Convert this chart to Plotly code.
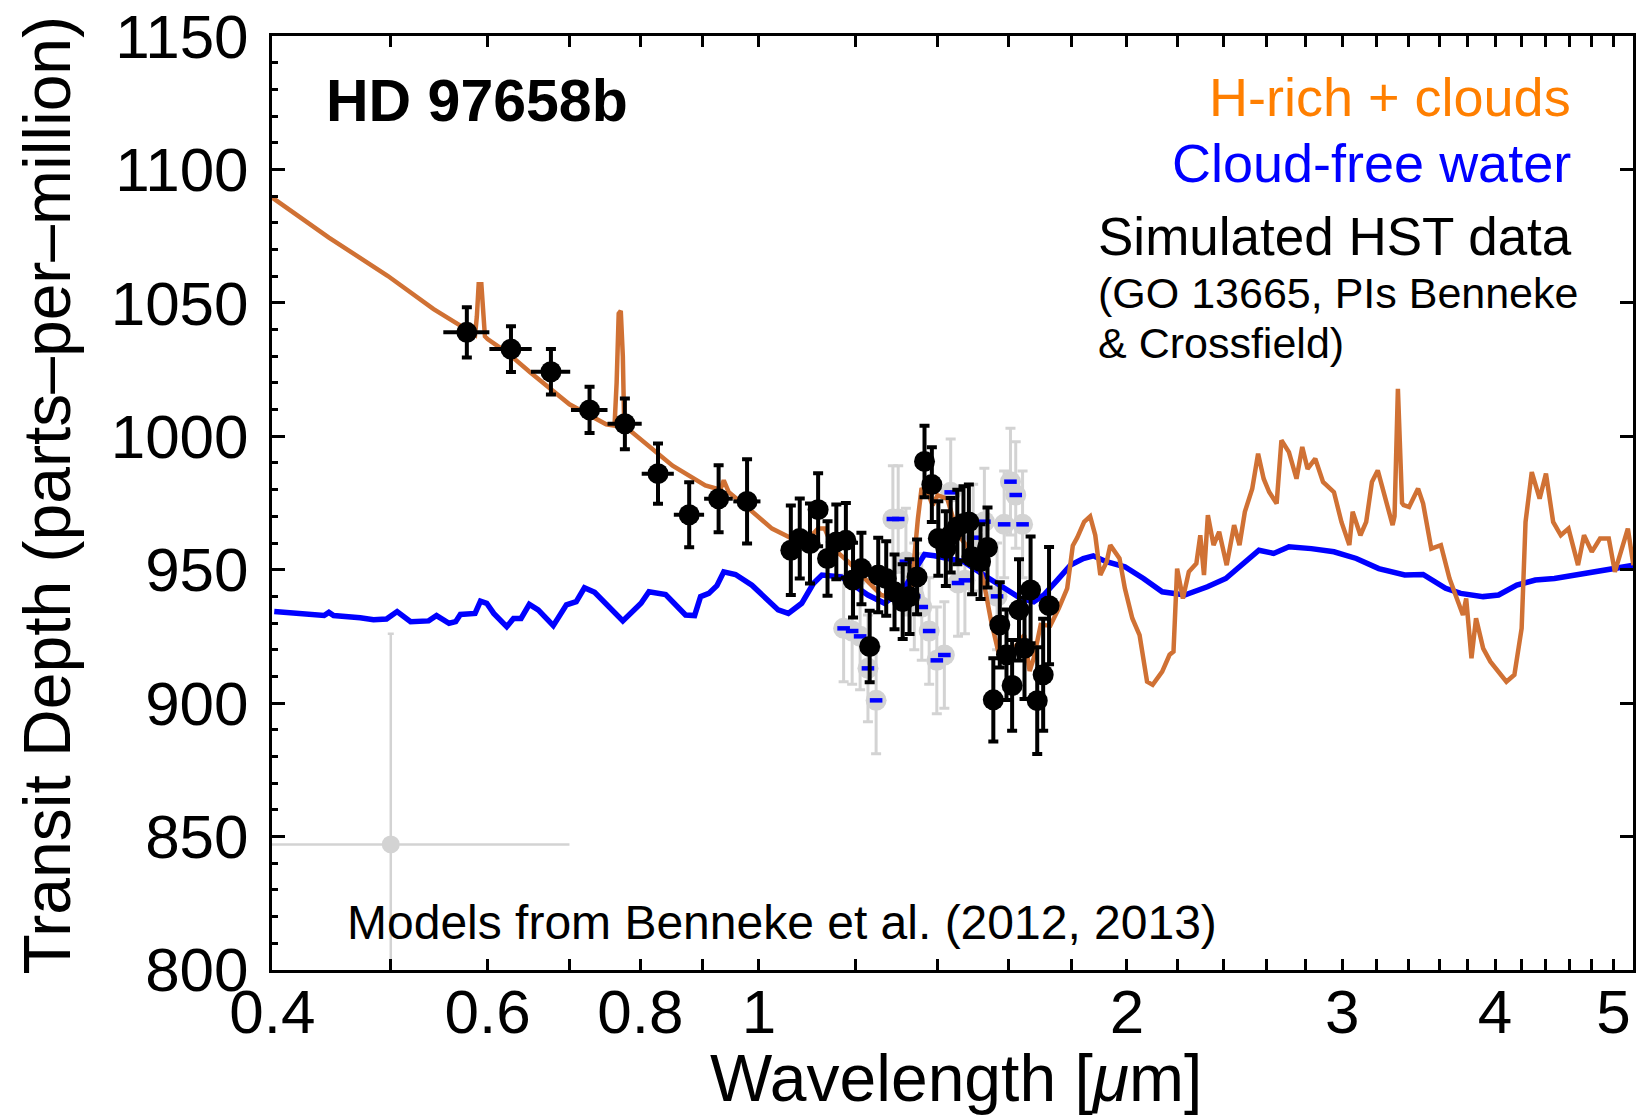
import numpy as np
import plotly.graph_objects as go

# ---------------- data ----------------
orange_wl = [0.400, 0.445, 0.497, 0.542, 0.570, 0.586, 0.588, 0.590, 0.593, 0.595, 0.597, 0.600,
             0.622, 0.650, 0.700, 0.750, 0.762, 0.765, 0.768, 0.771, 0.774, 0.776, 0.800, 0.850,
             0.904, 0.930, 0.936, 0.945, 0.981, 1.025, 1.064, 1.084, 1.100, 1.118, 1.132, 1.150,
             1.183, 1.228, 1.259, 1.308, 1.333, 1.349, 1.358, 1.370, 1.387, 1.400, 1.426, 1.444,
             1.462, 1.490, 1.509, 1.527, 1.548, 1.572, 1.590, 1.617, 1.648, 1.665, 1.678, 1.700,
             1.731, 1.759, 1.787, 1.806, 1.821, 1.845, 1.866, 1.884, 1.902, 1.925, 1.938, 1.972,
             1.992, 2.020, 2.048, 2.077, 2.099, 2.137, 2.167, 2.183, 2.198, 2.222, 2.247, 2.279,
             2.296, 2.312, 2.329, 2.354, 2.379, 2.413, 2.447, 2.472, 2.497, 2.532, 2.560, 2.587,
             2.614, 2.651, 2.675, 2.713, 2.752, 2.782, 2.810, 2.851, 2.893, 2.953, 2.995, 3.040,
             3.059, 3.104, 3.138, 3.172, 3.207, 3.252, 3.298, 3.310, 3.331, 3.357, 3.367, 3.402,
             3.460, 3.493, 3.547, 3.612, 3.671, 3.722, 3.765, 3.788, 3.826, 3.859, 3.911, 3.965,
             4.026, 4.086, 4.148, 4.205, 4.236, 4.286, 4.350, 4.402, 4.462, 4.527, 4.593, 4.676,
             4.729, 4.799, 4.874, 4.955, 5.012, 5.081, 5.136, 5.190]
orange_depth = [1089.5, 1074.5, 1060.2, 1047.7, 1041.5, 1038.0, 1045.0, 1057.0, 1057.0, 1045.0, 1037.5, 1036.5,
                1031.5, 1024.0, 1012.0, 1004.5, 1004.0, 1020.0, 1046.0, 1047.0, 1030.0, 1004.0, 999.0, 989.0,
                981.6, 980.0, 983.5, 979.0, 972.9, 965.4, 961.7, 959.2, 962.0, 965.4, 965.4, 958.0,
                953.0, 945.5, 940.5, 938.0, 943.0, 969.0, 980.0, 980.4, 974.2, 977.9, 976.6, 968.0,
                962.0, 956.7, 953.0, 945.5, 931.0, 918.0, 919.0, 920.5, 925.5, 912.0, 916.8, 929.3,
                929.0, 935.5, 943.0, 959.0, 962.0, 967.9, 970.0, 962.9, 948.0, 953.0, 959.2, 954.2,
                943.0, 931.8, 925.5, 908.0, 906.8, 911.8, 918.1, 919.3, 950.4, 939.2, 949.2, 952.3,
                962.9, 948.0, 970.4, 959.2, 964.2, 951.7, 966.7, 959.2, 971.7, 980.4, 993.5, 984.1,
                979.1, 974.8, 998.5, 994.1, 984.1, 996.0, 987.8, 991.6, 982.9, 979.1, 967.9, 959.2,
                971.7, 962.9, 967.9, 982.9, 987.2, 977.3, 966.7, 970.0, 1017.8, 975.0, 974.2, 973.5,
                980.4, 974.8, 957.9, 959.2, 946.7, 939.2, 933.0, 939.2, 916.8, 931.8, 920.5, 915.5,
                911.8, 908.0, 910.6, 928.0, 967.9, 986.6, 976.6, 986.0, 967.9, 962.9, 965.4, 951.7,
                962.9, 956.7, 961.7, 961.7, 949.2, 957.9, 965.4, 951.7]

blue_wl = [0.4015, 0.441, 0.445, 0.449, 0.472, 0.484, 0.496, 0.506, 0.519, 0.537, 0.545, 0.558,
           0.565, 0.570, 0.586, 0.592, 0.599, 0.607, 0.622, 0.630, 0.639, 0.649, 0.660, 0.679,
           0.696, 0.709, 0.720, 0.734, 0.774, 0.788, 0.801, 0.813, 0.839, 0.871, 0.886, 0.896,
           0.910, 0.924, 0.936, 0.957, 0.987, 1.037, 1.057, 1.084, 1.108, 1.126, 1.168, 1.190,
           1.228, 1.267, 1.315, 1.349, 1.366, 1.392, 1.435, 1.471, 1.527, 1.586, 1.637, 1.678,
           1.710, 1.754, 1.798, 1.842, 1.877, 1.924, 1.992, 2.063, 2.137, 2.230, 2.327, 2.409,
           2.495, 2.564, 2.636, 2.713, 2.830, 2.953, 3.080, 3.213, 3.374, 3.493, 3.644, 3.749,
           3.911, 4.026, 4.167, 4.315, 4.473, 4.697, 4.900, 5.200]
blue_depth = [934.3, 932.8, 934.0, 932.8, 932.0, 931.2, 931.5, 934.3, 930.5, 930.8, 932.8, 929.9,
              930.5, 933.2, 933.6, 938.2, 937.4, 933.6, 928.6, 931.7, 931.7, 937.0, 934.9, 929.0,
              936.8, 938.0, 943.2, 941.5, 930.8, 934.3, 937.4, 941.7, 940.7, 933.0, 932.8, 939.9,
              941.1, 944.0, 949.2, 948.2, 944.2, 934.9, 933.6, 937.4, 944.8, 948.0, 947.3, 944.8,
              940.5, 937.4, 943.0, 951.7, 955.7, 955.2, 954.2, 953.0, 948.0, 943.0, 939.2, 938.0,
              940.5, 946.1, 951.7, 954.2, 955.2, 953.0, 951.1, 946.7, 941.7, 940.5, 943.6, 946.7,
              953.0, 957.3, 956.1, 958.6, 957.9, 956.7, 954.2, 950.4, 948.0, 948.2, 943.0, 941.1,
              939.9, 940.5, 944.2, 946.1, 946.7, 948.2, 949.5, 951.7]

# simulated HST data for the H-rich + clouds model (black)
vis_wl = [0.577, 0.627, 0.676, 0.727, 0.777, 0.827, 0.877, 0.927, 0.978]
vis_depth = [1039.0, 1032.7, 1024.2, 1009.9, 1004.7, 986.0, 970.6, 976.6, 975.6]
vis_err = [9.4, 8.6, 8.5, 8.7, 9.5, 11.3, 12.2, 12.6, 15.8]
vis_wl_err = [0.025] * 9

ir_wl = [1.062, 1.080, 1.101, 1.118, 1.138, 1.157, 1.178, 1.194, 1.213, 1.232, 1.252, 1.271,
         1.291, 1.311, 1.328, 1.347, 1.366, 1.385, 1.402, 1.422, 1.435, 1.453, 1.470, 1.485,
         1.494, 1.518, 1.538, 1.555, 1.574, 1.594, 1.611, 1.632, 1.649, 1.668, 1.689, 1.708, 1.727]
ir_depth = [957.3, 961.7, 959.8, 972.5, 954.2, 960.4, 961.0, 946.1, 950.4, 921.2, 948.0, 946.7,
            941.7, 938.0, 939.9, 947.3, 990.6, 981.9, 961.7, 957.9, 962.9, 966.0, 967.3, 967.9,
            954.8, 953.0, 958.3, 901.2, 929.3, 918.1, 906.6, 934.9, 920.5, 942.4, 900.9, 910.6, 936.5]
ir_err = [16.8, 15.0, 15.0, 13.7, 14.0, 14.0, 14.0, 14.0, 13.4, 13.4, 14.0, 14.0,
          14.0, 14.0, 14.0, 14.0, 13.4, 14.0, 14.0, 14.0, 14.0, 14.0, 14.0, 14.0,
          14.0, 14.0, 15.0, 15.6, 16.0, 17.0, 17.0, 19.0, 19.0, 20.0, 20.0, 21.0, 22.0]

# simulated HST data for the cloud-free water model (grey with blue binned model)
water_wl = [1.173, 1.192, 1.210, 1.228, 1.247, 1.287, 1.300, 1.319, 1.340, 1.359, 1.378, 1.398,
            1.418, 1.435, 1.455, 1.474, 1.497, 1.529, 1.566, 1.587, 1.606, 1.622, 1.643]
water_depth = [928.0, 927.0, 925.0, 913.0, 901.0, 969.0, 969.0, 953.0, 940.0, 936.0, 927.0, 916.0,
               918.0, 979.0, 945.0, 946.0, 962.0, 968.0, 940.0, 967.0, 983.0, 978.0, 967.0]
water_err = [20.0] * 23

# single-point uncertainty example
ex_wl = [0.5]
ex_depth = [847.0]
ex_wl_err = [0.2]
ex_err = [79.0]

y_ticks = [800, 850, 900, 950, 1000, 1050, 1100, 1150]
x_label_ticks = {0.4: "0.4", 0.6: "0.6", 0.8: "0.8", 1: "1", 2: "2", 3: "3", 4: "4", 5: "5"}
x_all_ticks = [0.4, 0.5, 0.6, 0.7, 0.8, 0.9, 1.0, 1.2, 1.4, 1.6, 1.8, 2.0, 2.2, 2.4, 2.6, 2.8,
               3.0, 3.2, 3.4, 3.6, 3.8, 4.0, 4.2, 4.4, 4.6, 4.8, 5.0]

# ---------------- figure ----------------
FONT = "Liberation Sans, Arial, Helvetica, sans-serif"
ORANGE = "rgb(208,113,52)"
GREY = "#D3D3D3"

L, R, T, B = 272, 1636, 32, 970
W, H = 1638, 1115


def px(X):
    return (X - L) / (R - L)


def py(Y):
    return (B - Y) / (B - T)


fig = go.Figure()

fig.add_trace(go.Scatter(
    x=ex_wl, y=ex_depth, mode="markers",
    marker=dict(color=GREY, size=18),
    error_x=dict(type="data", array=ex_wl_err, color=GREY, thickness=2.5, width=0),
    error_y=dict(type="data", array=ex_err, color=GREY, thickness=2.5, width=3),
    showlegend=False))

fig.add_trace(go.Scatter(
    x=water_wl, y=water_depth, mode="markers",
    marker=dict(color=GREY, size=21),
    error_y=dict(type="data", array=water_err, color=GREY, thickness=3, width=5),
    showlegend=False))
fig.add_trace(go.Scatter(
    x=water_wl, y=water_depth, mode="markers",
    marker=dict(symbol="line-ew", size=9, line=dict(color="blue", width=4.5)),
    showlegend=False))

fig.add_trace(go.Scatter(x=blue_wl, y=blue_depth, mode="lines",
                         line=dict(color="blue", width=5.5), showlegend=False))
fig.add_trace(go.Scatter(x=orange_wl, y=orange_depth, mode="lines",
                         line=dict(color=ORANGE, width=4.5), showlegend=False))

fig.add_trace(go.Scatter(
    x=vis_wl, y=vis_depth, mode="markers",
    marker=dict(color="black", size=21),
    error_x=dict(type="data", array=vis_wl_err, color="black", thickness=4, width=0),
    error_y=dict(type="data", array=vis_err, color="black", thickness=4, width=5),
    showlegend=False))
fig.add_trace(go.Scatter(
    x=ir_wl, y=ir_depth, mode="markers",
    marker=dict(color="black", size=21),
    error_y=dict(type="data", array=ir_err, color="black", thickness=4, width=5),
    showlegend=False))

# invisible trace to anchor the right-hand y axis
fig.add_trace(go.Scatter(x=[1], y=[1000], yaxis="y2", mode="markers",
                         marker=dict(opacity=0), showlegend=False, hoverinfo="skip"))

fig.update_layout(
    width=W, height=H,
    margin=dict(l=L, r=W - R, t=T, b=H - B),
    paper_bgcolor="white", plot_bgcolor="white",
    font=dict(family=FONT, color="black"),
    xaxis=dict(
        type="log",
        range=[np.log10(0.3998), np.log10(5.186)],
        tickmode="array", tickvals=x_all_ticks,
        ticktext=[x_label_ticks.get(v, "") for v in x_all_ticks],
        ticks="inside", ticklen=11, tickwidth=3, tickcolor="black",
        showline=True, linewidth=3, linecolor="black", mirror="ticks",
        showgrid=False, zeroline=False,
        tickfont=dict(size=62, family=FONT),
        ticklabelstandoff=-14,
        ticklabeloverflow="allow",
    ),
    yaxis=dict(
        range=[799.9, 1150.1],
        tickmode="array", tickvals=y_ticks,
        ticks="inside", ticklen=13, tickwidth=3, tickcolor="black",
        minor=dict(dtick=10, tick0=800, ticks="inside", ticklen=6, tickwidth=3, tickcolor="black"),
        showline=True, linewidth=3, linecolor="black", mirror=True,
        showgrid=False, zeroline=False,
        tickfont=dict(size=62, family=FONT),
        ticklabelstandoff=8,
        ticklabeloverflow="allow",
    ),
    yaxis2=dict(
        range=[799.9, 1150.1], overlaying="y", side="right",
        tickmode="array", tickvals=y_ticks,
        ticks="inside", ticklen=13, tickwidth=3, tickcolor="black",
        showticklabels=False, showline=False, showgrid=False, zeroline=False,
    ),
)

ann = [
    dict(text="Transit Depth (parts–per–million)", x=px(47), y=py(493), textangle=-90,
         xanchor="center", yanchor="middle", font=dict(size=66)),
    dict(text="Wavelength [<i>μ</i>m]", x=px(958), y=py(1078),
         xanchor="center", yanchor="middle", font=dict(size=66)),
    dict(text="<b>HD 97658b</b>", x=px(324), y=py(97), xanchor="left", yanchor="middle",
         font=dict(size=59)),
    dict(text="H-rich + clouds", x=px(1576), y=py(93), xanchor="right", yanchor="middle",
         font=dict(size=54, color="#FF7F00")),
    dict(text="Cloud-free water", x=px(1576), y=py(160), xanchor="right", yanchor="middle",
         font=dict(size=54, color="blue")),
    dict(text="Simulated HST data", x=px(1098), y=py(233), xanchor="left", yanchor="middle",
         font=dict(size=53)),
    dict(text="(GO 13665, PIs Benneke", x=px(1098), y=py(290), xanchor="left", yanchor="middle",
         font=dict(size=43)),
    dict(text="& Crossfield)", x=px(1098), y=py(340), xanchor="left", yanchor="middle",
         font=dict(size=43)),
    dict(text="Models from Benneke et al. (2012, 2013)", x=px(345), y=py(922),
         xanchor="left", yanchor="middle", font=dict(size=48)),
]
for a in ann:
    a.update(xref="paper", yref="paper", showarrow=False)
    a["font"] = dict(family=FONT, color=a["font"].get("color", "black"), size=a["font"]["size"])
fig.update_layout(annotations=ann)

fig.write_html("out.html")
